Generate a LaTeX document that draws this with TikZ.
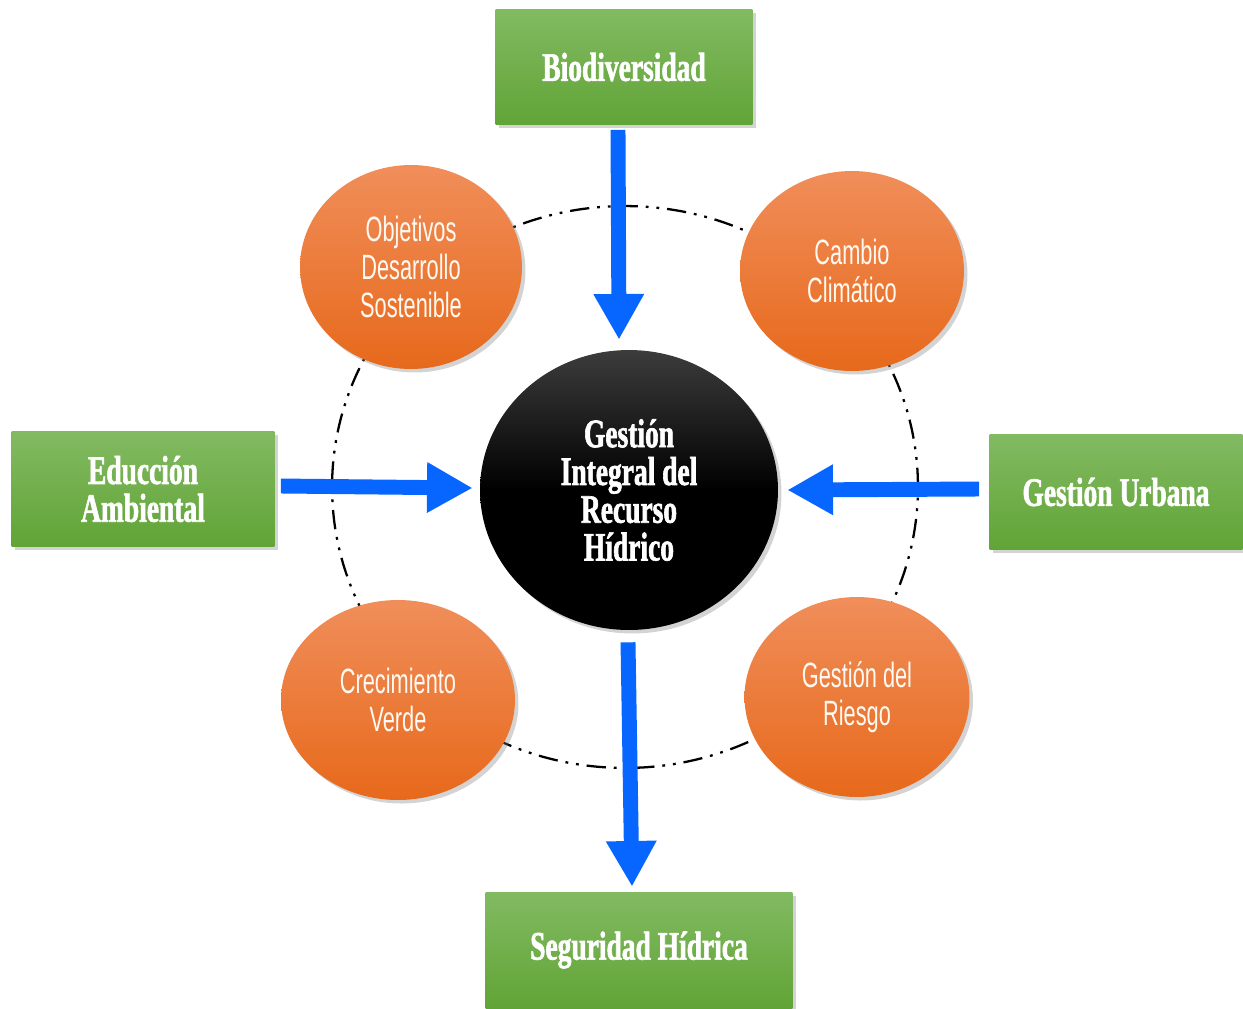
\documentclass[tikz,border=0pt]{standalone}
\usepackage{fontspec}
\usetikzlibrary{shapes.geometric,shadows,arrows.meta,calc}
\newfontfamily\bcond{Liberation Serif Bold}[FakeStretch=0.68,FakeBold=1.5]
\newfontfamily\tcond{Liberation Sans}[FakeStretch=0.62]
\definecolor{gtop}{HTML}{82BA62}
\definecolor{gbot}{HTML}{61A436}
\definecolor{otop}{HTML}{F08E5A}
\definecolor{obot}{HTML}{E7691B}
\definecolor{ctop}{HTML}{3C3C3C}
\definecolor{arrblue}{HTML}{0766FF}
\begin{document}
\begin{tikzpicture}[x=0.02cm,y=-0.02cm,
  gbox/.style={rectangle, inner sep=0pt, top color=gtop, bottom color=gbot,
    drop shadow={shadow xshift=2pt, shadow yshift=-2pt, opacity=0.35},
    text=white, align=center,
    font={\bcond\fontsize{23pt}{21.5pt}\selectfont}},
  oell/.style={ellipse, inner sep=0pt, top color=otop, bottom color=obot,
    drop shadow={shadow xshift=2pt, shadow yshift=-2pt, opacity=0.35},
    text=white!95!orange, align=center,
    font={\tcond\fontsize{20pt}{21.5pt}\selectfont}},
  core/.style={ellipse, inner sep=0pt, top color=ctop, bottom color=black,
    middle color=black,
    drop shadow={shadow xshift=2pt, shadow yshift=-2pt, opacity=0.35},
    text=white, align=center,
    font={\bcond\fontsize{23pt}{21.5pt}\selectfont}},
  ringst/.style={ellipse, draw=black, line width=1.3pt,
    dash pattern=on 11pt off 4.5pt on 1.6pt off 4.5pt on 1.6pt off 4.5pt},
  arr/.style={draw=arrblue, line width=8.5pt,
    -{Triangle[length=26pt,width=27pt]}}
]
\useasboundingbox (0,0) rectangle (1243,1008);

% dash-dot ring
\node[ringst, minimum width=11.72cm, minimum height=11.24cm] (ring) at (625,487) {};

% green boxes
\node[gbox, minimum width=5.14cm, minimum height=2.3cm] (bio) at (624,67) {Biodiversidad};
\node[gbox, minimum width=5.26cm, minimum height=2.3cm] (edu) at (143,489) {Educción\\Ambiental};
\node[gbox, minimum width=5.06cm, minimum height=2.3cm] (urb) at (1116,492) {Gestión Urbana};
\node[gbox, minimum width=6.14cm, minimum height=2.32cm] (seg) at (639,950) {Seguridad Hídrica};

% orange ellipses
\node[oell, minimum width=4.44cm, minimum height=4.08cm] (ods) at (411,267) {Objetivos\\Desarrollo\\Sostenible};
\node[oell, minimum width=4.48cm, minimum height=4.0cm] (cc) at (852,271) {Cambio\\Climático};
\node[oell, minimum width=4.68cm, minimum height=4.0cm] (cv) at (398,700) {Crecimiento\\Verde};
\node[oell, minimum width=4.5cm, minimum height=4.0cm] (gr) at (857,697) {Gestión del\\Riesgo};

% central circle
\node[core, minimum width=5.96cm, minimum height=5.6cm] (ctr) at (629,490) {Gestión\\Integral del\\Recurso\\Hídrico};

% arrows
\draw[arr] ($(bio.south)+(-6,5)$) -- ($(ctr.north)+(-10,-10)$);
\draw[arr] ($(edu.east)+(6,-3)$) -- ($(ctr.west)+(-7,-2)$);
\draw[arr] ($(urb.west)+(-10,-3)$) -- ($(ctr.east)+(9,0)$);
\draw[arr] ($(ctr.south)+(-1,12)$) -- ($(seg.north)+(-7,-5)$);
\end{tikzpicture}
\end{document}
